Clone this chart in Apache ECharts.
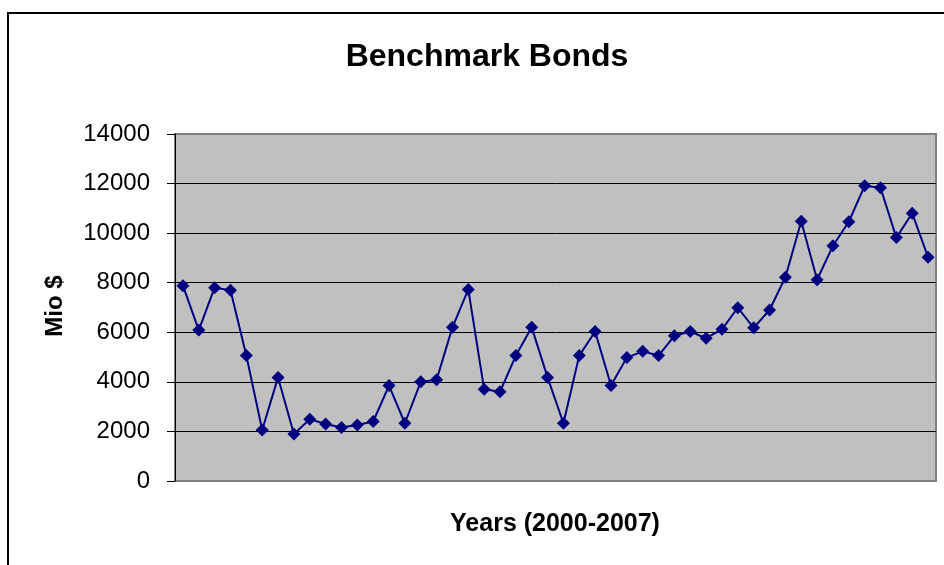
<!DOCTYPE html>
<html>
<head>
<meta charset="utf-8">
<script src="https://cdn.jsdelivr.net/npm/echarts@6/dist/echarts.min.js"></script>
<style>html,body{margin:0;padding:0;background:#fff;}#c{width:944px;height:565px;}</style>
</head>
<body>
<div id="c"></div>
<script>
var categories = [
  "2000-01","2000-03","2000-05","2000-07","2000-09","2000-11",
  "2001-01","2001-03","2001-05","2001-07","2001-09","2001-11",
  "2002-01","2002-03","2002-05","2002-07","2002-09","2002-11",
  "2003-01","2003-03","2003-05","2003-07","2003-09","2003-11",
  "2004-01","2004-03","2004-05","2004-07","2004-09","2004-11",
  "2005-01","2005-03","2005-05","2005-07","2005-09","2005-11",
  "2006-01","2006-03","2006-05","2006-07","2006-09","2006-11",
  "2007-01","2007-03","2007-05","2007-07","2007-09","2007-11"
];
var bondValues = [
  7880, 6090, 7800, 7700, 5060, 2060,
  4180, 1900, 2490, 2300, 2160, 2260,
  2400, 3850, 2330, 4000, 4080, 6200,
  7730, 3700, 3600, 5060, 6200, 4180,
  2330, 5060, 6030, 3850, 4980, 5230,
  5060, 5860, 6030, 5760, 6120, 6990,
  6180, 6900, 8220, 10480, 8120, 9490,
  10460, 11910, 11830, 9820, 10800, 9030
];
var yTicks = { min: 0, max: 14000, interval: 2000 };
var titleText = "Benchmark Bonds";
var yName = "Mio $";
var xName = "Years (2000-2007)";

var chart = echarts.init(document.getElementById('c'));
var font = '"Liberation Sans", Arial, sans-serif';
chart.setOption({
  animation: false,
  backgroundColor: '#ffffff',
  title: {
    text: titleText,
    left: 482, top: 36, textAlign: 'center',
    textStyle: { fontFamily: font, fontSize: 32, fontWeight: 'bold', color: '#000' }
  },
  grid: {
    left: 175, right: 8, top: 134, bottom: 84,
    show: true, backgroundColor: '#C0C0C0', borderColor: '#808080', borderWidth: 2
  },
  xAxis: {
    type: 'category', data: categories, boundaryGap: true,
    axisLine: { show: false }, axisTick: { show: false }, axisLabel: { show: false },
    splitLine: { show: false }
  },
  yAxis: {
    type: 'value', min: yTicks.min, max: yTicks.max, interval: yTicks.interval,
    axisLine: { show: true, lineStyle: { color: '#000', width: 1 } },
    axisTick: { show: true, inside: false, length: 8, lineStyle: { color: '#000' } },
    axisLabel: { margin: 25, fontFamily: font, fontSize: 24, color: '#000',
                 formatter: function (v) { return String(v); } },
    splitLine: { show: true, lineStyle: {
      color: ['#808080', '#000', '#000', '#000', '#000', '#000', '#000', '#808080'], width: 1 } }
  },
  graphic: [
    { type: 'rect', shape: { x: 8, y: 13, width: 1000, height: 700 },
      style: { fill: 'none', stroke: '#000', lineWidth: 2 }, z: 100 },
    { type: 'text', x: 55, y: 306, rotation: Math.PI / 2,
      style: { text: yName, fontFamily: font, fontSize: 24, fontWeight: 'bold', fill: '#000',
               textAlign: 'center', textVerticalAlign: 'middle' } },
    { type: 'text', x: 555, y: 524,
      style: { text: xName, fontFamily: font, fontSize: 25, fontWeight: 'bold', fill: '#000',
               textAlign: 'center', textVerticalAlign: 'middle' } }
  ],
  series: [{
    type: 'line', data: bondValues,
    symbol: 'diamond', symbolSize: 13,
    showSymbol: true, showAllSymbol: true,
    lineStyle: { color: '#000080', width: 2 },
    itemStyle: { color: '#000080' }
  }]
});
</script>
</body>
</html>
